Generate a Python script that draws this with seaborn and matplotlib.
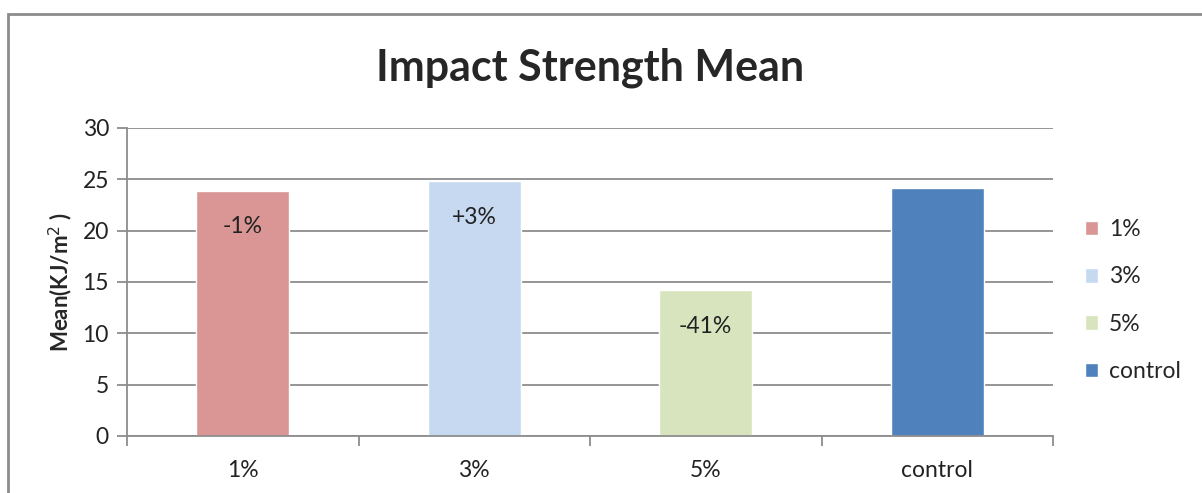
import numpy as np
import pandas as pd
import matplotlib.pyplot as plt
import seaborn as sns
from matplotlib.patches import Rectangle
from matplotlib.ticker import FixedLocator

categories = ['1%', '3%', '5%', 'control']
means = [23.9, 24.8, 14.2, 24.2]
change_labels = ['-1%', '+3%', '-41%', '']
colors = ['#D99694', '#C6D9F1', '#D7E4BD', '#4F81BD']

df = pd.DataFrame({'group': categories, 'mean': means})

sns.set_style('white')
plt.rcParams['font.family'] = ['Lato', 'DejaVu Sans']

fig = plt.figure(figsize=(12.02, 4.93), dpi=100)
ax = fig.add_axes([127 / 1202, 1 - 436 / 493, (1053 - 127) / 1202, (436 - 128) / 493])

sns.barplot(data=df, x='group', y='mean', hue='group', palette=colors,
            dodge=False, width=0.4, saturation=1, ax=ax, legend=True)

ax.set_ylim(0, 30)
ax.set_xlim(-0.5, 3.5)
ax.set_yticks(np.arange(0, 31, 5))
ax.yaxis.grid(True, color='#8c8c8c', linewidth=1.3)
ax.set_axisbelow(True)
for side in ['top', 'right']:
    ax.spines[side].set_visible(False)
for side in ['left', 'bottom']:
    ax.spines[side].set_color('#8c8c8c')
    ax.spines[side].set_linewidth(1.3)

ax.tick_params(axis='y', which='major', length=7, width=1.3, color='#8c8c8c',
               labelsize=16.5, pad=6, left=True)
ax.tick_params(axis='x', which='major', length=0, labelsize=16.5, pad=17)
ax.xaxis.set_minor_locator(FixedLocator([-0.5, 0.5, 1.5, 2.5, 3.5]))
ax.tick_params(axis='x', which='minor', length=7, width=1.3, color='#8c8c8c', bottom=True)
for lbl in ax.get_xticklabels() + ax.get_yticklabels():
    lbl.set_color('#222222')

ax.set_xlabel('')
ax.set_ylabel('Mean(KJ/m$^2$ )', fontsize=16, fontweight='bold', labelpad=5)

for bar_container in ax.containers:
    for patch in bar_container:
        idx = int(round(patch.get_x() + patch.get_width() / 2))
        if change_labels[idx]:
            ax.annotate(change_labels[idx], (idx, patch.get_height()),
                        xytext=(0, -26), textcoords='offset points',
                        ha='center', va='center', fontsize=16.5, color='#222222')

fig.suptitle('Impact Strength Mean', x=(127 + 1053) / 2 / 1202, y=1 - 68 / 493,
             va='center', fontsize=31, fontweight='bold')

handles, labels = ax.get_legend_handles_labels()
ax.legend(handles, labels, loc='center left', bbox_to_anchor=(1.012, 0.44),
          frameon=False, fontsize=16.5, handlelength=0.6, handleheight=0.6,
          handletextpad=0.45, labelspacing=1.15)

fig.patches.append(Rectangle((8 / 1202, -0.1), 1.2, 1 - 14 / 493 + 0.1,
                             transform=fig.transFigure, fill=False,
                             edgecolor='#8c8c8c', linewidth=2))

fig.savefig('out.png', dpi=100)
